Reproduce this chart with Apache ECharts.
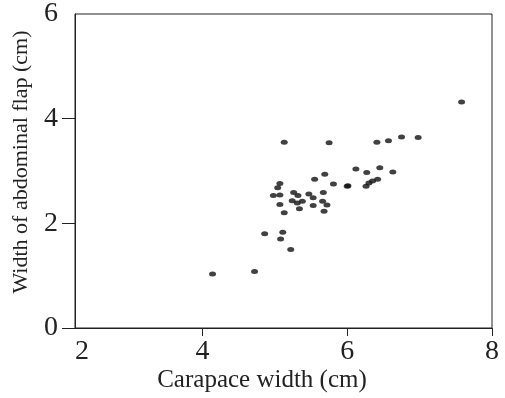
<!DOCTYPE html>
<html>
<head>
<meta charset="utf-8">
<script src="https://cdn.jsdelivr.net/npm/echarts@6/dist/echarts.min.js"></script>
<style>html,body{margin:0;padding:0;background:#fff}#c{width:505px;height:398px}</style>
</head>
<body>
<div id="c"></div>
<script>
// Carapace width (cm)
var carapaceWidth = [7.58, 5.13, 5.75, 6.41, 6.57, 6.75, 6.98,
  6.12, 6.27, 6.45, 6.63, 5.69, 5.55, 5.81, 6.01, 5.07, 5.04,
  4.98, 5.07, 5.26, 5.32, 5.47, 5.53, 5.67, 5.07, 5.24, 5.31, 5.38,
  5.34, 5.53, 5.66, 5.72, 5.13, 5.68, 6.00, 6.26, 6.35, 6.42, 6.30,
  4.86, 5.11, 5.08, 5.22, 4.14, 4.72];
// Width of abdominal flap (cm)
var flapWidth = [4.32, 3.55, 3.54, 3.55, 3.58, 3.65, 3.64,
  3.04, 2.97, 3.06, 2.98, 2.94, 2.84, 2.75, 2.72, 2.76, 2.68,
  2.53, 2.54, 2.59, 2.53, 2.56, 2.49, 2.59, 2.36, 2.43, 2.39, 2.42,
  2.28, 2.34, 2.42, 2.35, 2.20, 2.23, 2.71, 2.71, 2.81, 2.84, 2.77,
  1.80, 1.83, 1.70, 1.50, 1.03, 1.08];

var xMin = 2.24, xMax = 8;
var xTickValues = [4, 6, 8];
var xLabelValues = [xMin, 4, 6, 8];
var xTickLabels = ['2', '4', '6', '8'];
var yTickValues = [0, 2, 4];
var yLabelValues = [0, 2, 4, 6];
var yTickLabels = ['0', '2', '4', '6'];
var xTitle = 'Carapace width (cm)';
var yTitle = 'Width of abdominal flap (cm)';

var points = carapaceWidth.map(function (x, i) { return [x, flapWidth[i]]; });

var chart = echarts.init(document.getElementById('c'));
var serif = 'Liberation Serif';
chart.setOption({
  animation: false,
  backgroundColor: '#fff',
  grid: { left: 75, right: 13, top: 10, bottom: 70, show: true, borderColor: '#222', borderWidth: 1, backgroundColor: 'transparent' },
  xAxis: {
    type: 'value', min: xMin, max: xMax,
    splitLine: { show: false },
    axisLine: { lineStyle: { color: '#222', width: 1 } },
    axisTick: { show: true, length: 8, customValues: xTickValues, lineStyle: { color: '#222' } },
    axisLabel: {
      customValues: xLabelValues, margin: 10, color: '#222', fontFamily: serif, fontSize: 28,
      formatter: function (v) {
        var i = xLabelValues.indexOf(v);
        if (i < 0) return '';
        return i === 0 ? '{s|' + xTickLabels[i] + '}' : xTickLabels[i];
      },
      rich: { s: { fontFamily: serif, fontSize: 28, color: '#222', padding: [0, 0, 0, 14] } }
    }
  },
  yAxis: {
    type: 'value', min: 0, max: 6,
    splitLine: { show: false },
    axisLine: { lineStyle: { color: '#222', width: 1 } },
    axisTick: { show: true, length: 13, customValues: yTickValues, lineStyle: { color: '#222' } },
    axisLabel: {
      customValues: yLabelValues, margin: 17, color: '#222', fontFamily: serif, fontSize: 28,
      formatter: function (v) { var i = yLabelValues.indexOf(v); return i >= 0 ? yTickLabels[i] : ''; }
    }
  },
  graphic: [
    { type: 'text', x: 262, y: 380,
      style: { text: xTitle, font: '25px "Liberation Serif"', fill: '#222', align: 'center', verticalAlign: 'middle' } },
    { type: 'text', x: 21, y: 162, rotation: Math.PI / 2,
      style: { text: yTitle, font: '22px "Liberation Serif"', fill: '#222', align: 'center', verticalAlign: 'middle' } }
  ],
  series: [{
    type: 'scatter', data: points, symbol: 'circle', symbolSize: [7, 5],
    itemStyle: { color: '#111' }
  }]
});
</script>
</body>
</html>
